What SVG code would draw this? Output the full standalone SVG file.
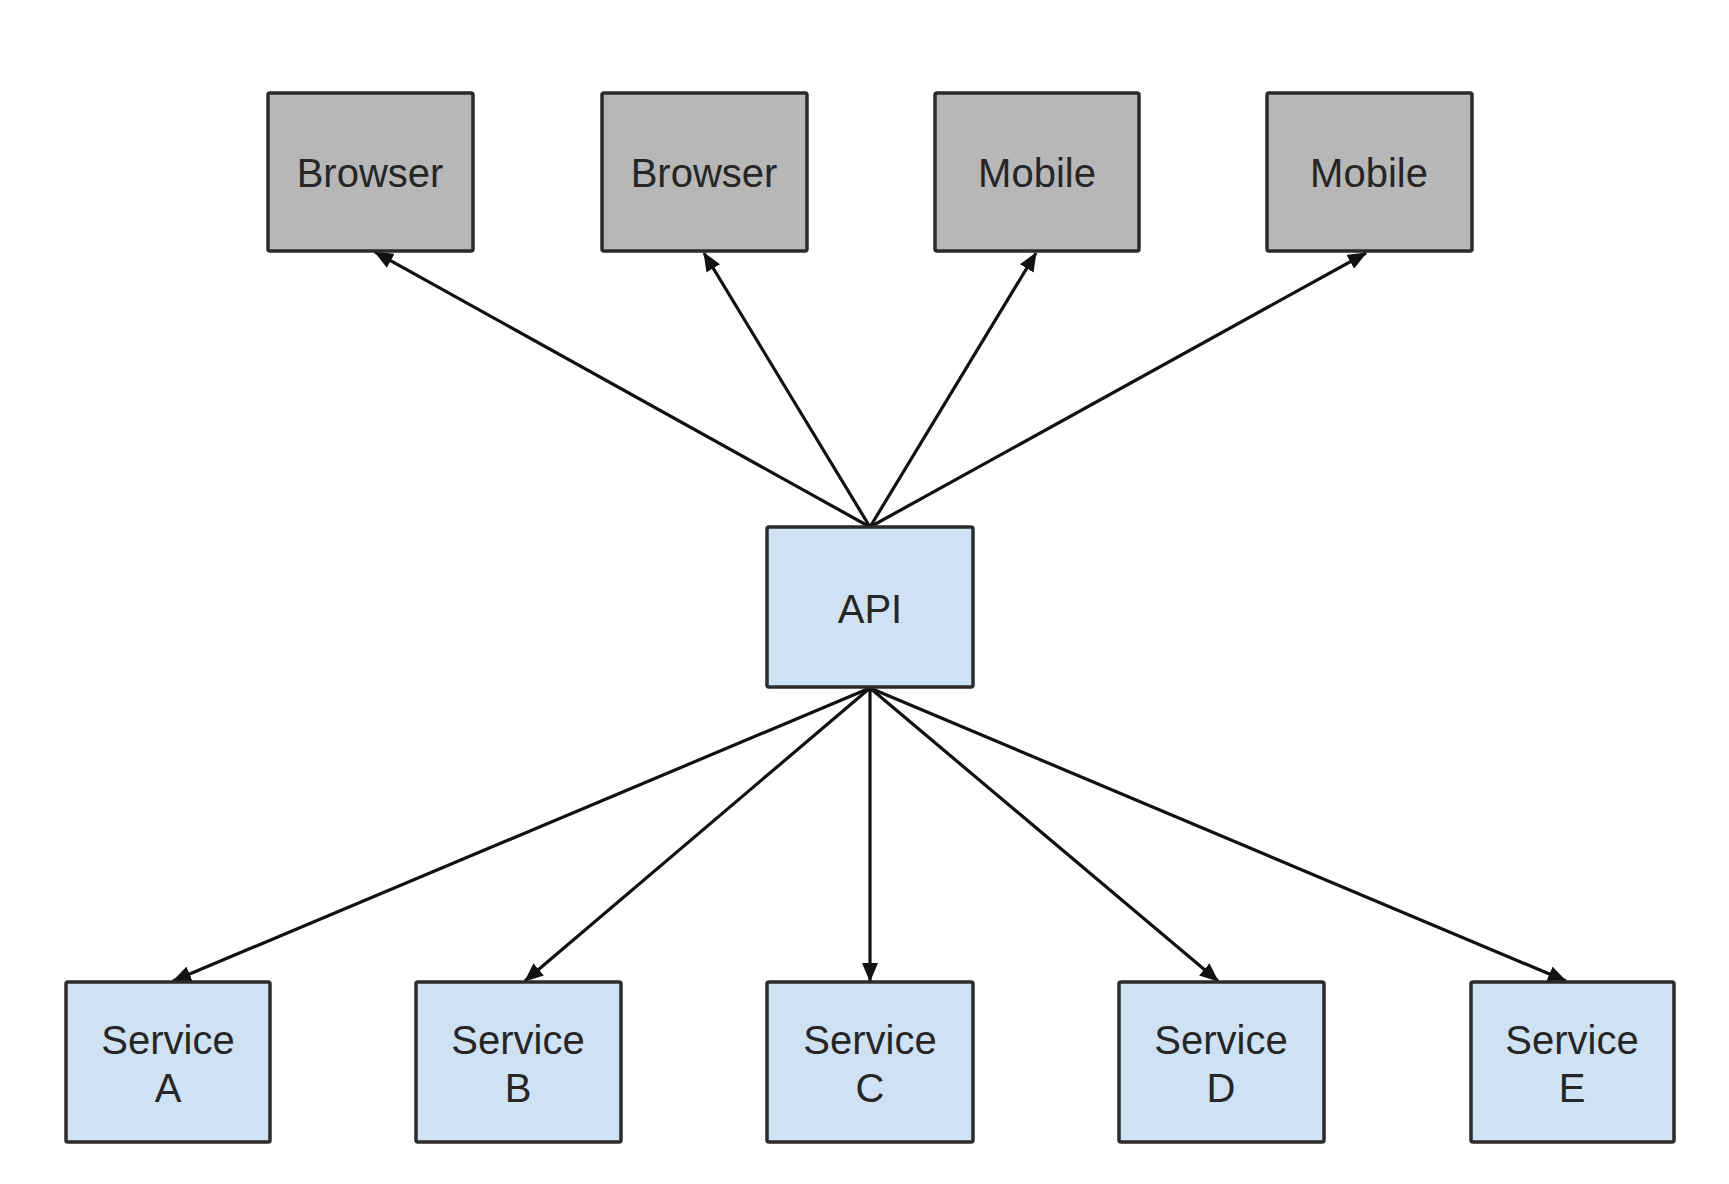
<svg xmlns="http://www.w3.org/2000/svg" width="1729" height="1184" viewBox="0 0 1729 1184">
<style>
.box{stroke:#2b2b2b;stroke-width:3.5;}
.client{fill:#b7b7b7;}
.svc{fill:#cfe2f3;}
.lbl{font-family:"Liberation Sans",Arial,sans-serif;font-size:40px;fill:#262626;text-anchor:middle;}
.edge{stroke:#111;stroke-width:3.2;fill:none;marker-end:url(#arr);}
</style>
<defs>
<marker id="arr" markerUnits="userSpaceOnUse" markerWidth="19" markerHeight="16" refX="18" refY="8" orient="auto">
<path d="M0,0 L19,8 L0,16 z" fill="#111"/>
</marker>
</defs>
<rect width="1729" height="1184" fill="#fff"/>
<g id="connectors">
<line class="edge" x1="870" y1="527" x2="375" y2="252"/>
<line class="edge" x1="870" y1="527" x2="704" y2="253"/>
<line class="edge" x1="870" y1="527" x2="1036" y2="253"/>
<line class="edge" x1="870" y1="527" x2="1366" y2="253"/>
<line class="edge" x1="870" y1="688" x2="173" y2="981"/>
<line class="edge" x1="870" y1="688" x2="525" y2="981"/>
<line class="edge" x1="870" y1="688" x2="870" y2="981"/>
<line class="edge" x1="870" y1="688" x2="1218" y2="981"/>
<line class="edge" x1="870" y1="688" x2="1566" y2="981"/>
</g>
<g id="browser1"><rect class="box client" x="268" y="93" width="205" height="158" rx="2"/><text class="lbl" x="370" y="187">Browser</text></g>
<g id="browser2"><rect class="box client" x="602" y="93" width="205" height="158" rx="2"/><text class="lbl" x="704" y="187">Browser</text></g>
<g id="mobile1"><rect class="box client" x="935" y="93" width="204" height="158" rx="2"/><text class="lbl" x="1037" y="187">Mobile</text></g>
<g id="mobile2"><rect class="box client" x="1267" y="93" width="205" height="158" rx="2"/><text class="lbl" x="1369" y="187">Mobile</text></g>
<g id="api"><rect class="box svc" x="767" y="527" width="206" height="160" rx="2"/><text class="lbl" x="870" y="623">API</text></g>
<g id="serviceA"><rect class="box svc" x="66" y="982" width="204" height="160" rx="2"/><text class="lbl" x="168" y="1054">Service</text><text class="lbl" x="168" y="1102">A</text></g>
<g id="serviceB"><rect class="box svc" x="416" y="982" width="205" height="160" rx="2"/><text class="lbl" x="518" y="1054">Service</text><text class="lbl" x="518" y="1102">B</text></g>
<g id="serviceC"><rect class="box svc" x="767" y="982" width="206" height="160" rx="2"/><text class="lbl" x="870" y="1054">Service</text><text class="lbl" x="870" y="1102">C</text></g>
<g id="serviceD"><rect class="box svc" x="1119" y="982" width="205" height="160" rx="2"/><text class="lbl" x="1221" y="1054">Service</text><text class="lbl" x="1221" y="1102">D</text></g>
<g id="serviceE"><rect class="box svc" x="1471" y="982" width="203" height="160" rx="2"/><text class="lbl" x="1572" y="1054">Service</text><text class="lbl" x="1572" y="1102">E</text></g>
</svg>
